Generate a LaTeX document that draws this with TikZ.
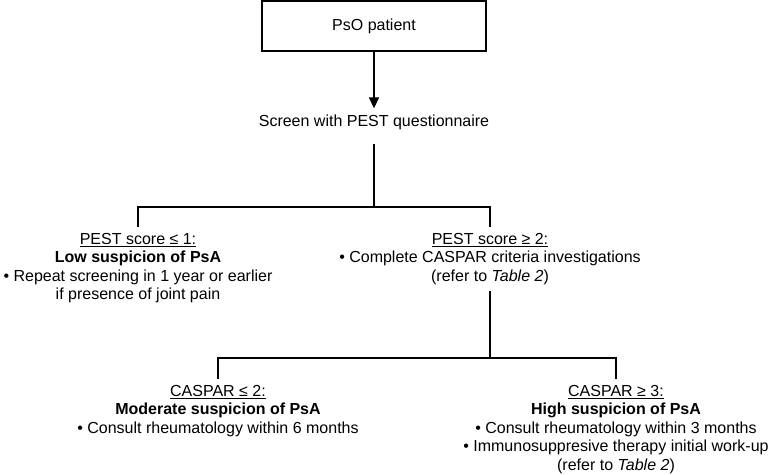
\documentclass[tikz,border=0pt]{standalone}
\usepackage{fontspec}
\setmainfont{Liberation Sans}
\usetikzlibrary{arrows.meta,calc}
\tikzset{
  % box around the starting point
  start box/.style={draw, line width=1.6pt, minimum width=224pt, minimum height=50pt,
    font=\fontsize{16}{18.5}\selectfont},
  % text blocks of each decision level
  level text/.style={align=center, inner xsep=0pt, inner ysep=6pt,
    font=\fontsize{16}{18.5}\selectfont},
  % plain connecting lines
  branch/.style={line width=1.6pt},
  % line with a head at the end
  flow arrow/.style={line width=1.6pt, -{Triangle[length=11pt,width=10pt]}},
}

\begin{document}
\begin{tikzpicture}[x=1pt,y=-1pt]
\useasboundingbox (0,0) rectangle (779,474);

% Start
\node[start box] (patient) at (374,26) {PsO patient};
\node[level text] (screen) at (374,122) {Screen with PEST questionnaire};

% First decision
\node[level text, anchor=north] (low) at (138,227) {\underline{PEST score ≤ 1:}\\
  \textbf{Low suspicion of PsA}\\
  • Repeat screening in 1 year or earlier\\
  if presence of joint pain};
\node[level text, anchor=north] (workup) at (490,227) {\underline{PEST score ≥ 2:}\\
  • Complete CASPAR criteria investigations\\
  (refer to \textit{Table 2})};

% Second decision
\node[level text, anchor=north] (moderate) at (218,379) {\underline{CASPAR ≤ 2:}\\
  \textbf{Moderate suspicion of PsA}\\
  • Consult rheumatology within 6 months};
\node[level text, anchor=north] (high) at (616,379) {\underline{CASPAR ≥ 3:}\\
  \textbf{High suspicion of PsA}\\
  • Consult rheumatology within 3 months\\
  • Immunosuppresive therapy initial work-up\\
  (refer to \textit{Table 2})};

% Connectors
\coordinate (split top) at (374,207);
\coordinate (split bottom) at (490,358);
\draw[flow arrow] (patient) -- (screen);
\draw[branch, shorten <=8pt] (screen) -- (split top);
\draw[branch] (low.north) |- (split top) -| (workup.north);
\draw[branch] (workup) -- (split bottom);
\draw[branch] (moderate.north) |- (split bottom) -| (high.north);

\end{tikzpicture}
\end{document}
